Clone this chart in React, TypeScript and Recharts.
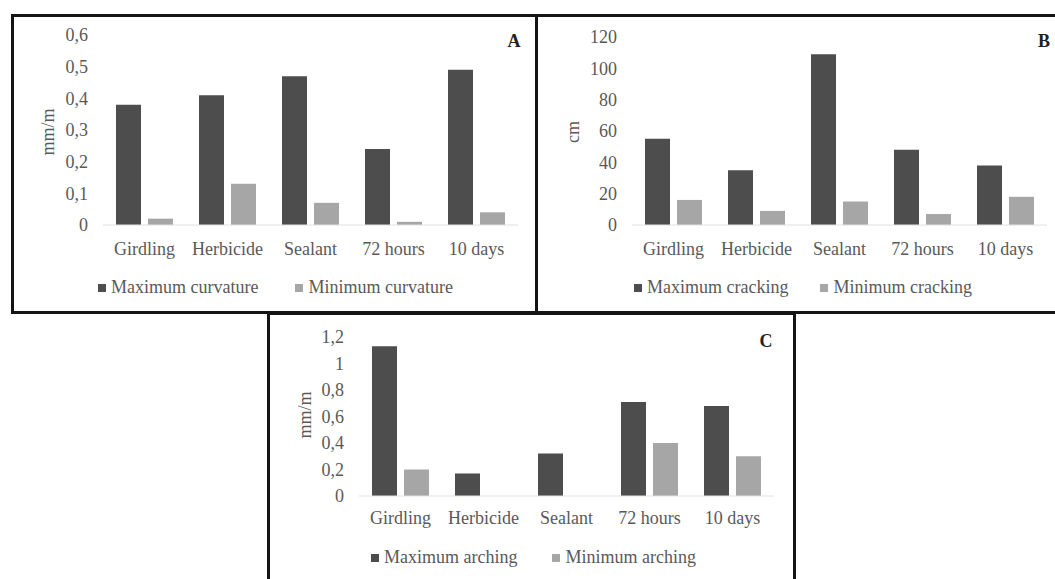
import { Bar, BarChart, Legend, XAxis, YAxis } from 'recharts';

const categories = ['Girdling', 'Herbicide', 'Sealant', '72 hours', '10 days'];

const curvatureMax = [0.38, 0.41, 0.47, 0.24, 0.49];
const curvatureMin = [0.02, 0.13, 0.07, 0.01, 0.04];
const curvatureTicks = [0, 0.1, 0.2, 0.3, 0.4, 0.5, 0.6];

const crackingMax = [55, 35, 109, 48, 38];
const crackingMin = [16, 9, 15, 7, 18];
const crackingTicks = [0, 20, 40, 60, 80, 100, 120];

const archingMax = [1.13, 0.17, 0.32, 0.71, 0.68];
const archingMin = [0.2, 0, 0, 0.4, 0.3];
const archingTicks = [0, 0.2, 0.4, 0.6, 0.8, 1, 1.2];

const DARK = '#4d4d4d';
const LIGHT = '#a6a6a6';
const TEXT = '#595959';
const FONT = '"Liberation Serif", "Times New Roman", serif';

// decimal comma, as in the original figure
const fmt = (v: number) => String(v).replace('.', ',');

type Box = { left: number; top: number; width: number; height: number };

type PanelProps = {
  letter: string;
  unit: string;
  maxName: string;
  minName: string;
  maxValues: number[];
  minValues: number[];
  ticks: number[];
  chart: Box;
  plot: Box; // plot area, in chart coords
  labelGap: number;
  legendLeft: number;
  legendTop: number;
  legendSpacing: number;
  unitX: number;
  unitY: number;
  letterX: number;
  letterY: number;
};

function Panel(p: PanelProps) {
  const data = categories.map((name, i) => ({ name, max: p.maxValues[i], min: p.minValues[i] }));
  const xAxisHeight = 30;
  const margin = {
    top: p.plot.top,
    left: 0,
    right: p.chart.width - p.plot.left - p.plot.width,
    bottom: p.chart.height - p.plot.top - p.plot.height - xAxisHeight,
  };
  const renderLegend = (props: any) => (
    <div style={{ display: 'flex', whiteSpace: 'nowrap', fontFamily: FONT, fontSize: 18, color: TEXT }}>
      {(props.payload ?? []).map((item: any, i: number) => (
        <div key={i} style={{ display: 'flex', alignItems: 'center', marginRight: p.legendSpacing }}>
          <span style={{ width: 8, height: 8, background: item.color, marginRight: 5 }} />
          <span>{item.value}</span>
        </div>
      ))}
    </div>
  );

  return (
    <div style={{ position: 'absolute', left: p.chart.left, top: p.chart.top }}>
      <BarChart
        width={p.chart.width}
        height={p.chart.height}
        data={data}
        margin={margin}
        barSize={25}
        barGap={7}
        style={{ fontFamily: FONT }}
      >
        <XAxis
          dataKey="name"
          height={xAxisHeight}
          interval={0}
          tickLine={false}
          tickSize={0}
          tickMargin={p.labelGap}
          axisLine={{ stroke: '#e0e0e0' }}
          tick={{ fill: TEXT, fontSize: 18, fontFamily: FONT }}
        />
        <YAxis
          width={p.plot.left}
          domain={[p.ticks[0], p.ticks[p.ticks.length - 1]]}
          ticks={p.ticks}
          tickFormatter={fmt}
          axisLine={false}
          tickLine={false}
          tickSize={0}
          tickMargin={15}
          tick={{ fill: TEXT, fontSize: 18, fontFamily: FONT }}
        />
        <Legend
          layout="horizontal"
          verticalAlign="middle"
          content={renderLegend}
          wrapperStyle={{ left: p.legendLeft, top: p.legendTop, width: 'auto' }}
        />
        <Bar dataKey="max" name={p.maxName} fill={DARK} isAnimationActive={false} />
        <Bar dataKey="min" name={p.minName} fill={LIGHT} isAnimationActive={false} />
        <text
          x={p.unitX}
          y={p.unitY}
          transform={`rotate(-90, ${p.unitX}, ${p.unitY})`}
          textAnchor="middle"
          dominantBaseline="central"
          fill={TEXT}
          fontSize={18}
          fontFamily={FONT}
        >
          {p.unit}
        </text>
        <text x={p.letterX} y={p.letterY} textAnchor="middle" fill="#222" fontSize={18} fontWeight="bold" fontFamily={FONT}>
          {p.letter}
        </text>
      </BarChart>
    </div>
  );
}

const frame = (b: Box) => (
  <div
    style={{
      position: 'absolute',
      left: b.left,
      top: b.top,
      width: b.width,
      height: b.height,
      border: '3px solid #141414',
      boxSizing: 'border-box',
      pointerEvents: 'none',
    }}
  />
);

export default function App() {
  return (
    <div
      style={{
        position: 'absolute',
        left: 0,
        top: 0,
        width: 1055,
        height: 579,
        background: '#fff',
        overflow: 'hidden',
      }}
    >
      <Panel
        letter="A"
        unit="mm/m"
        maxName="Maximum curvature"
        minName="Minimum curvature"
        maxValues={curvatureMax}
        minValues={curvatureMin}
        ticks={curvatureTicks}
        chart={{ left: 12, top: 15, width: 524, height: 298 }}
        plot={{ left: 91, top: 20, width: 415, height: 190 }}
        labelGap={17}
        legendLeft={86}
        legendTop={262}
        legendSpacing={37}
        unitX={36}
        unitY={117}
        letterX={502}
        letterY={32}
      />
      <Panel
        letter="B"
        unit="cm"
        maxName="Maximum cracking"
        minName="Minimum cracking"
        maxValues={crackingMax}
        minValues={crackingMin}
        ticks={crackingTicks}
        chart={{ left: 536, top: 15, width: 519, height: 298 }}
        plot={{ left: 96, top: 22, width: 415, height: 188 }}
        labelGap={17}
        legendLeft={98}
        legendTop={262}
        legendSpacing={32}
        unitX={37}
        unitY={117}
        letterX={508}
        letterY={32}
      />
      <Panel
        letter="C"
        unit="mm/m"
        maxName="Maximum arching"
        minName="Minimum arching"
        maxValues={archingMax}
        minValues={archingMin}
        ticks={archingTicks}
        chart={{ left: 268, top: 313, width: 526, height: 266 }}
        plot={{ left: 91, top: 24, width: 415, height: 159 }}
        labelGap={15}
        legendLeft={103}
        legendTop={234}
        legendSpacing={35}
        unitX={37}
        unitY={102}
        letterX={498}
        letterY={34}
      />
      {frame({ left: 11, top: 14, width: 527, height: 300 })}
      {frame({ left: 535, top: 14, width: 530, height: 300 })}
      {frame({ left: 267, top: 312, width: 529, height: 280 })}
    </div>
  );
}
